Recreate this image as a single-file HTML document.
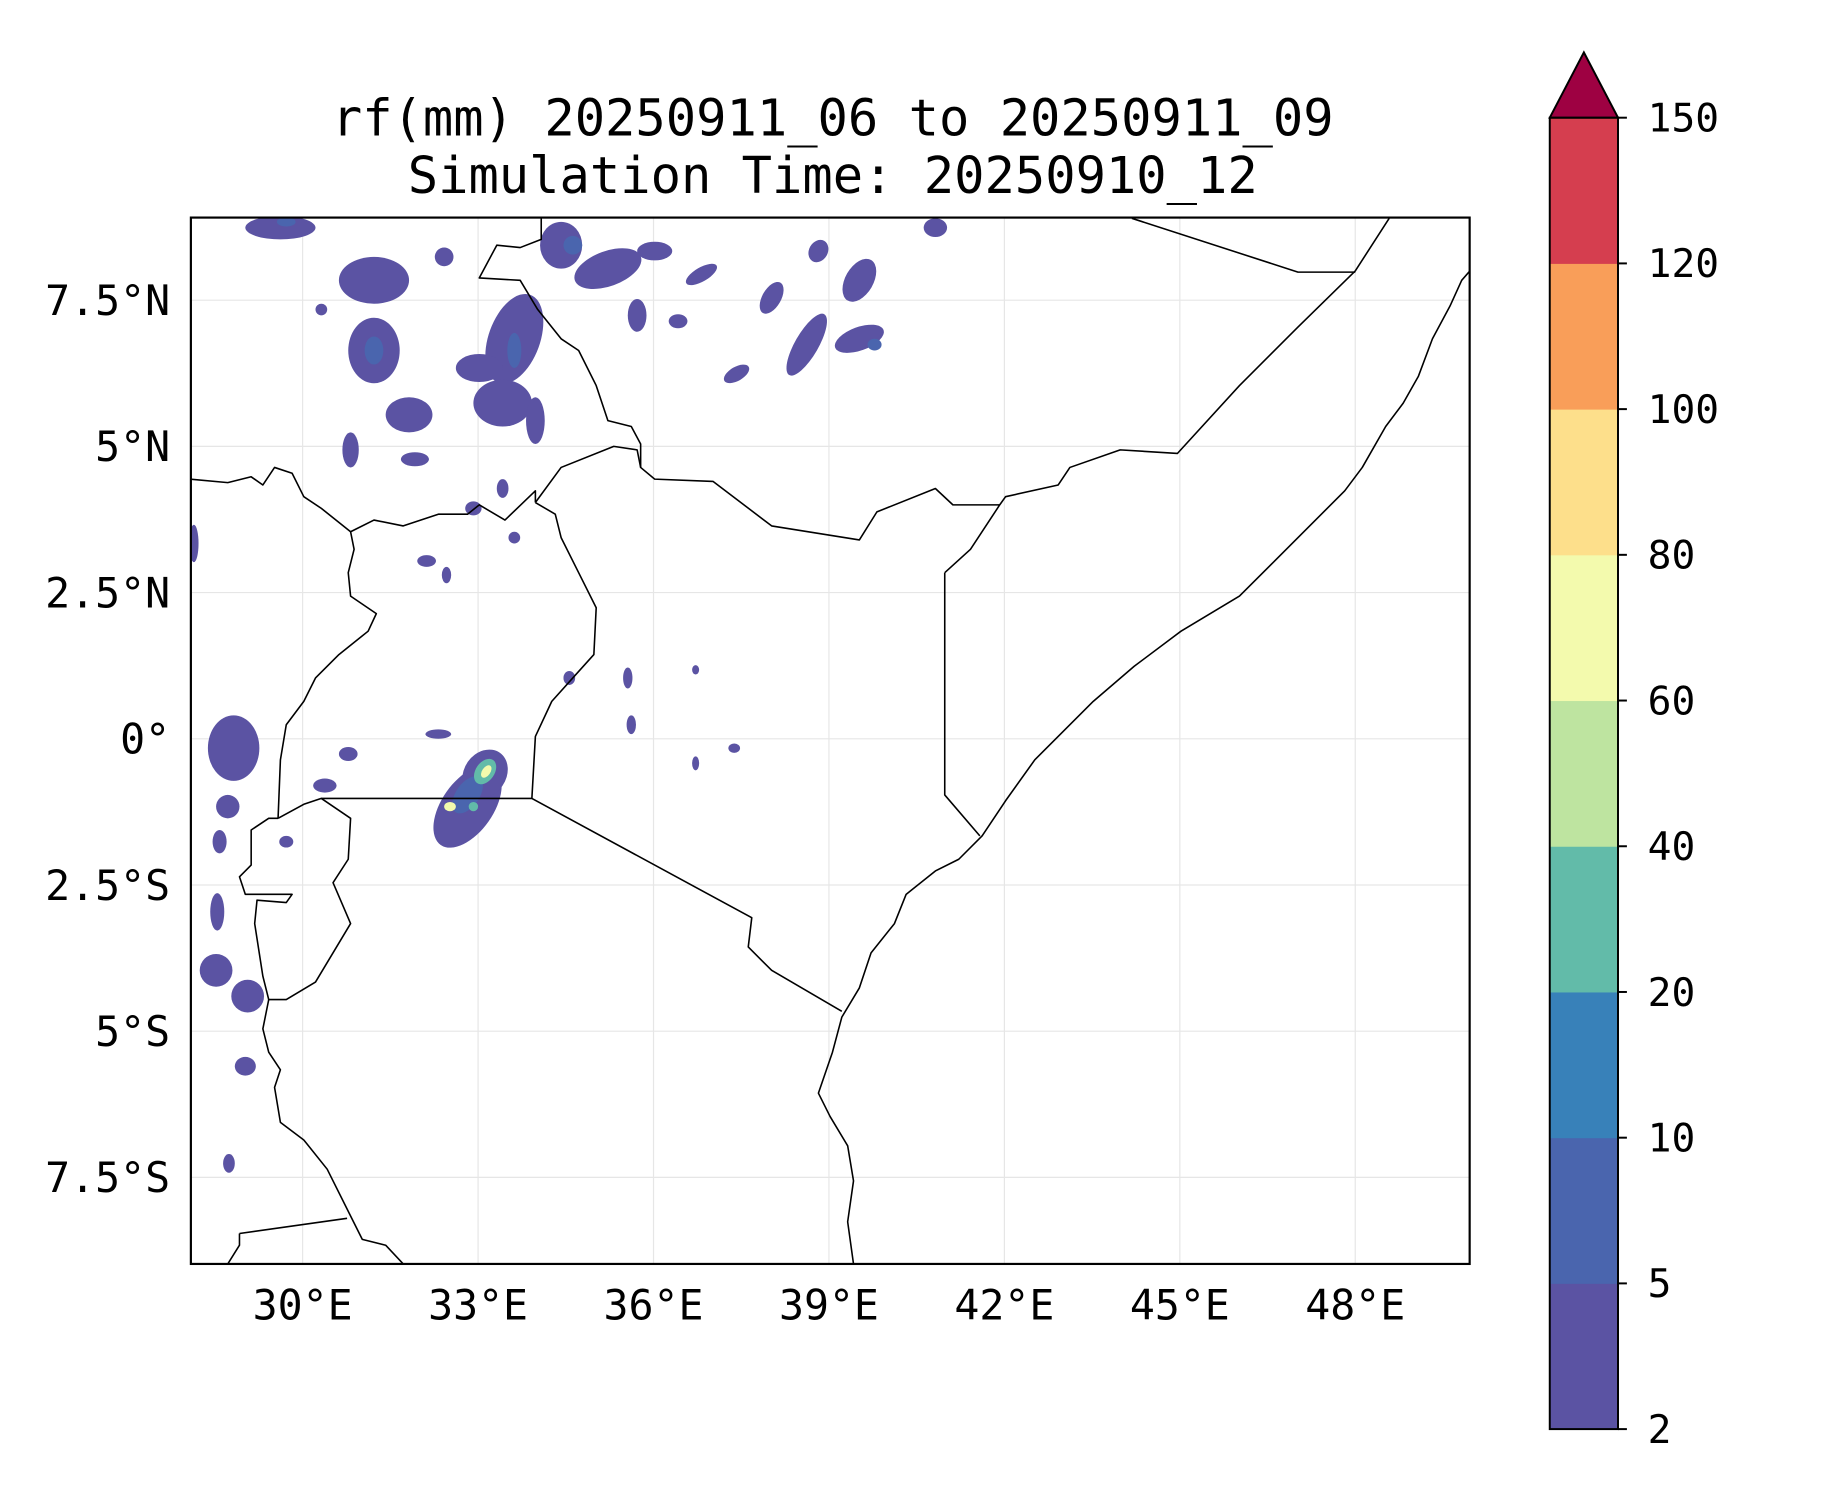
<!DOCTYPE html>
<html><head><meta charset="utf-8"><style>
html,body{margin:0;padding:0;background:#fff;}
svg{display:block;font-family:"DejaVu Sans Mono","Liberation Mono",monospace;}
</style></head><body>
<svg id="chart" width="1833" height="1500" viewBox="0 0 1833 1500" xmlns="http://www.w3.org/2000/svg">
<rect width="1833" height="1500" fill="#fff"/>
<g transform="scale(0.989)">
<text x="842" y="137" font-size="51" text-anchor="middle">rf(mm) 20250911_06 to 20250911_09</text>
<text x="842" y="195" font-size="51" text-anchor="middle">Simulation Time: 20250910_12</text>
<defs><clipPath id="mapclip"><rect x="193" y="220" width="1293" height="1058"/></clipPath></defs>
<g id="grid" clip-path="url(#mapclip)"></g>
<g id="rain" clip-path="url(#mapclip)"></g>
<g id="geo" clip-path="url(#mapclip)"></g>
<rect x="193" y="220" width="1293" height="1058" fill="none" stroke="#000" stroke-width="2.2"/>
<g id="xlab"></g>
<g id="ylab"></g>
<g id="cbar"></g>
</g>
</svg>
<script>
const lonTicks=[30,33,36,39,42,45,48];
const lonLabels=["30°E","33°E","36°E","39°E","42°E","45°E","48°E"];
const latTicks=[7.5,5,2.5,0,-2.5,-5,-7.5];
const latLabels=["7.5°N","5°N","2.5°N","0°","2.5°S","5°S","7.5°S"];
const cbarLevels=[2,5,10,20,40,60,80,100,120,150];
const cbarColors=["#5b53a3","#4a65ae","#3881b9","#62bba9","#bee4a0","#f3faad","#fddf8b","#f99e59","#d53e4f"];
const extendColor="#9e0142";
// rainfall blobs: lon, lat, rx(deg), ry(deg), rotation, level index
const blobLon=[31.22,31.22,31.82,30.82,33.62,33.42,33.98,34.42,35.22,36.02,36.82,38.02,38.62,39.52,39.52,37.42,29.62,28.82,28.72,28.52,29.06,29.02,28.74,32.82,33.12,35.56,32.32,37.38,28.14,28.58,28.54,36.72,33.42,32.92,32.12,32.46,34.56,36.72,30.78,30.38,31.92,33.02,30.32,32.42,35.72,36.42,38.82,40.82,29.72,33.62,35.62,
 31.22,33.62,39.78,32.82,34.62,29.72,33.12,33.14,32.52,32.92];
const blobLat=[7.84,6.64,5.54,4.94,6.84,5.74,5.44,8.44,8.04,8.34,7.94,7.54,6.74,7.84,6.84,6.24,8.74,-0.16,-1.16,-3.96,-4.4,-5.6,-7.26,-1.16,-0.6,1.04,0.08,-0.16,3.34,-1.76,-2.96,1.18,4.28,3.94,3.04,2.8,1.04,-0.42,-0.26,-0.8,4.78,6.34,7.34,8.24,7.24,7.14,8.34,8.74,-1.76,3.44,0.24,
 6.64,6.64,6.74,-0.96,8.44,8.84,-0.56,-0.56,-1.16,-1.16];
const blobRx=[0.6,0.44,0.4,0.14,0.44,0.5,0.16,0.36,0.6,0.3,0.3,0.16,0.2,0.24,0.44,0.24,0.6,0.44,0.2,0.28,0.28,0.18,0.1,0.44,0.36,0.08,0.22,0.1,0.08,0.12,0.12,0.06,0.1,0.14,0.16,0.08,0.1,0.06,0.16,0.2,0.24,0.4,0.1,0.16,0.16,0.16,0.16,0.2,0.12,0.1,0.08,
 0.16,0.12,0.12,0.2,0.16,0.16,0.16,0.07,0.1,0.08];
const blobRy=[0.4,0.56,0.3,0.3,0.8,0.4,0.4,0.4,0.3,0.16,0.12,0.3,0.6,0.4,0.2,0.12,0.2,0.56,0.2,0.28,0.28,0.16,0.16,0.8,0.44,0.18,0.08,0.08,0.32,0.2,0.32,0.08,0.16,0.12,0.1,0.14,0.12,0.12,0.12,0.12,0.12,0.24,0.1,0.16,0.28,0.12,0.2,0.16,0.1,0.1,0.16,
 0.24,0.3,0.1,0.36,0.16,0.08,0.24,0.12,0.08,0.08];
const blobRot=[0,0,0,0,20,0,0,0,-20,0,-30,30,30,30,-20,-30,0,0,0,0,0,0,0,35,35,0,0,0,0,0,0,0,0,0,0,0,0,0,0,0,0,0,0,0,0,0,30,0,0,0,0,
 0,0,0,35,0,0,35,35,0,0];
const blobLevel=[0,0,0,0,0,0,0,0,0,0,0,0,0,0,0,0,0,0,0,0,0,0,0,0,0,0,0,0,0,0,0,0,0,0,0,0,0,0,0,0,0,0,0,0,0,0,0,0,0,0,0,
 1,1,1,1,1,1,3,5,5,3];
// geographic lines as [lon,lat] pairs
const coast=[[49.96,8.0],[49.82,7.84],[49.62,7.4],[49.32,6.84],[49.08,6.2],[48.82,5.74],[48.52,5.34],[48.12,4.64],[47.82,4.24],[47.22,3.64],[46.62,3.04],[46.02,2.44],[45.02,1.84],[44.22,1.24],[43.52,0.64],[43.02,0.14],[42.52,-0.36],[42.02,-1.06],[41.62,-1.66],[41.22,-2.06],[40.82,-2.26],[40.32,-2.66],[40.12,-3.16],[39.72,-3.66],[39.52,-4.26],[39.22,-4.76],[39.06,-5.36],[38.82,-6.06],[39.02,-6.46],[39.32,-6.96],[39.42,-7.56],[39.32,-8.26],[39.42,-8.98]];
const borders=[
[[40.98,2.84],[40.98,-0.96],[41.58,-1.66]],
[[40.98,2.84],[41.42,3.24],[41.92,4.0],[42.02,4.14],[42.92,4.34],[43.12,4.64],[43.98,4.94],[44.96,4.88],[46.02,6.04],[47.02,7.04],[48.0,8.0],[48.58,8.9]],
[[44.18,8.9],[47.02,7.98],[48.0,7.98]],
[[33.98,4.04],[34.42,4.64],[35.32,5.0],[35.72,4.94],[35.78,4.64],[36.02,4.44],[37.02,4.4],[38.02,3.64],[39.52,3.4],[39.82,3.88],[40.82,4.28],[41.12,4.0],[41.92,4.0]],
[[34.08,8.9],[34.08,8.54],[33.72,8.4],[33.32,8.44],[33.02,7.88],[33.72,7.84],[34.02,7.34],[34.42,6.84],[34.72,6.64],[35.02,6.04],[35.22,5.44],[35.62,5.34],[35.78,5.04],[35.78,4.64]],
[[28.08,4.44],[28.72,4.38],[29.12,4.48],[29.32,4.34],[29.52,4.64],[29.82,4.54],[30.02,4.14],[30.32,3.94],[30.82,3.54],[31.22,3.74],[31.72,3.64],[32.32,3.84],[32.82,3.84],[33.02,4.0],[33.46,3.74],[33.98,4.24],[33.98,4.04]],
[[33.98,4.04],[34.32,3.84],[34.42,3.44],[34.72,2.84],[35.02,2.24],[34.98,1.44],[34.62,1.04],[34.26,0.64],[33.98,0.04],[33.92,-1.02]],
[[30.82,3.54],[30.88,3.24],[30.78,2.84],[30.82,2.44],[31.26,2.14],[31.12,1.84],[30.62,1.44],[30.22,1.04],[30.02,0.64],[29.72,0.24],[29.62,-0.36],[29.58,-1.36]],
[[30.32,-1.02],[33.92,-1.02],[37.68,-3.06],[37.62,-3.56],[38.02,-3.96],[39.22,-4.66]],
[[29.58,-1.36],[30.02,-1.12],[30.32,-1.02],[30.82,-1.36],[30.78,-2.06],[30.52,-2.46],[30.82,-3.16],[30.22,-4.16],[29.72,-4.46],[29.42,-4.46],[29.32,-4.06],[29.18,-3.16],[29.22,-2.76],[29.72,-2.8],[29.82,-2.66],[29.02,-2.66],[28.92,-2.36],[29.12,-2.16],[29.12,-1.56],[29.42,-1.36],[29.58,-1.36]],
[[29.42,-4.46],[29.32,-4.96],[29.42,-5.36],[29.62,-5.66],[29.52,-5.96],[29.62,-6.56],[30.02,-6.86],[30.42,-7.36],[30.82,-8.16],[31.02,-8.56],[31.42,-8.66],[31.72,-8.98]],
[[28.92,-8.46],[30.76,-8.2]],
[[28.72,-8.98],[28.92,-8.66],[28.92,-8.46]]
];
const NS="http://www.w3.org/2000/svg";
const PPD=59.13;
function xs(lon){return 306+(lon-30)*PPD;}
function ys(lat){return 747-lat*PPD;}
function mk(tag,attrs,parent){const e=document.createElementNS(NS,tag);for(const k in attrs)e.setAttribute(k,attrs[k]);parent.appendChild(e);return e;}
const grid=document.getElementById('grid');
lonTicks.forEach(l=>{const e=mk('line',{x1:xs(l),x2:xs(l),y1:220,y2:1278,stroke:'#e6e6e6','stroke-width':1.2},grid);

});
latTicks.forEach(l=>{const e=mk('line',{x1:193,x2:1486,y1:ys(l),y2:ys(l),stroke:'#e6e6e6','stroke-width':1.2},grid);

});
const rain=document.getElementById('rain');
for(let i=0;i<blobLon.length;i++){
 const cx=xs(blobLon[i]),cy=ys(blobLat[i]);
 const e=mk('ellipse',{cx:cx,cy:cy,rx:blobRx[i]*PPD,ry:blobRy[i]*PPD,fill:cbarColors[blobLevel[i]],transform:`rotate(${blobRot[i]} ${cx} ${cy})`},rain);
 
 
}
const geo=document.getElementById('geo');
function poly(pts,name){const e=mk('polyline',{points:pts.map(p=>xs(p[0])+','+ys(p[1])).join(' '),fill:'none',stroke:'#000','stroke-width':1.6,'stroke-linejoin':'round'},geo);

}
poly(coast,'coastline');
borders.forEach(b=>poly(b,'country-border'));
const xl=document.getElementById('xlab');
lonTicks.forEach((l,i)=>{const t=mk('text',{x:xs(l),y:1334,'font-size':42,'text-anchor':'middle'},xl);t.textContent=lonLabels[i];

});
const yl=document.getElementById('ylab');
latTicks.forEach((l,i)=>{const t=mk('text',{x:172,y:ys(l)+15,'font-size':42,'text-anchor':'end'},yl);t.textContent=latLabels[i];

});
const cb=document.getElementById('cbar');
const cbX=1567,cbW=69,cbTop=119,cbBot=1445;
const step=(cbBot-cbTop)/(cbarLevels.length-1);
function cy(i){return cbBot-i*step;}
cbarColors.forEach((c,i)=>{const r=mk('rect',{x:cbX,y:cy(i+1),width:cbW,height:step+0.5,fill:c},cb);

});
const tri=mk('polygon',{points:`${cbX},${cbTop} ${cbX+cbW/2},53 ${cbX+cbW},${cbTop}`,fill:extendColor,stroke:'#000','stroke-width':2},cb);


const fr=mk('rect',{x:cbX,y:cbTop,width:cbW,height:cbBot-cbTop,fill:'none',stroke:'#000','stroke-width':2},cb);


cbarLevels.forEach((v,i)=>{mk('line',{x1:cbX+cbW,x2:cbX+cbW+9,y1:cy(i),y2:cy(i),stroke:'#000','stroke-width':2},cb);
const t=mk('text',{x:cbX+cbW+30,y:cy(i)+14,'font-size':40},cb);t.textContent=v;

});
</script>
</body></html>
